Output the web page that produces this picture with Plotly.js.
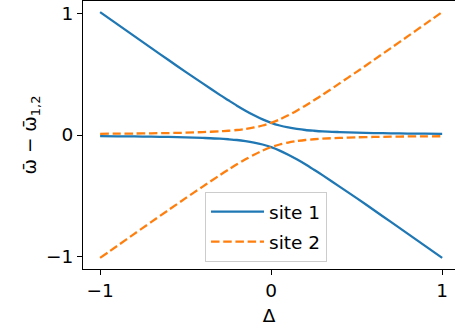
<!DOCTYPE html>
<html><head><meta charset="utf-8">
<script src="https://cdn.plot.ly/plotly-3.0.1.min.js"></script>
<style>html,body{margin:0;padding:0;background:#fff}</style>
</head><body><div id="chart" style="width:455px;height:329px"></div>
<script>
const delta = [-1,-0.9,-0.8,-0.7,-0.6,-0.5,-0.4,-0.3,-0.25,-0.2,-0.15,-0.1,-0.05,0,0.05,0.1,0.15,0.2,0.25,0.3,0.4,0.5,0.6,0.7,0.8,0.9,1];
const site1Upper = [1.010,0.911,0.812,0.714,0.616,0.519,0.424,0.330,0.285,0.241,0.200,0.162,0.128,0.100,0.078,0.062,0.050,0.041,0.035,0.030,0.024,0.019,0.016,0.014,0.012,0.011,0.010];
const site1Lower = [-0.010,-0.011,-0.012,-0.014,-0.016,-0.019,-0.024,-0.030,-0.035,-0.041,-0.050,-0.062,-0.078,-0.100,-0.128,-0.162,-0.200,-0.241,-0.285,-0.330,-0.424,-0.519,-0.616,-0.714,-0.812,-0.911,-1.010];
const site2Upper = [0.010,0.011,0.012,0.014,0.016,0.019,0.024,0.030,0.035,0.041,0.050,0.062,0.078,0.100,0.128,0.162,0.200,0.241,0.285,0.330,0.424,0.519,0.616,0.714,0.812,0.911,1.010];
const site2Lower = [-1.010,-0.911,-0.812,-0.714,-0.616,-0.519,-0.424,-0.330,-0.285,-0.241,-0.200,-0.162,-0.128,-0.100,-0.078,-0.062,-0.050,-0.041,-0.035,-0.030,-0.024,-0.019,-0.016,-0.014,-0.012,-0.011,-0.010];
const seriesNames = ['site 1','site 2'];
const tickVals = [-1,0,1];
const tickText = ['\u22121','0','1'];

const blue = '#1f77b4', orange = '#ff7f0e';
const font = 'DejaVu Sans, sans-serif';
const fs = 18.5;
const traces = [
  {x: delta, y: site1Upper, name: seriesNames[0], legendgroup: 's1', mode: 'lines', line: {color: blue, width: 2.3, shape: 'spline', smoothing: 0.8}},
  {x: delta, y: site1Lower, name: seriesNames[0], legendgroup: 's1', showlegend: false, mode: 'lines', line: {color: blue, width: 2.3, shape: 'spline', smoothing: 0.8}},
  {x: delta, y: site2Upper, name: seriesNames[1], legendgroup: 's2', mode: 'lines', line: {color: orange, width: 2.3, dash: '8.5px,3.7px', shape: 'spline', smoothing: 0.8}},
  {x: delta, y: site2Lower, name: seriesNames[1], legendgroup: 's2', showlegend: false, mode: 'lines', line: {color: orange, width: 2.3, dash: '8.5px,3.7px', shape: 'spline', smoothing: 0.8}}
];
const layout = {
  width: 455, height: 329,
  margin: {l: 83, r: 0, t: 1, b: 60},
  paper_bgcolor: '#fff', plot_bgcolor: '#fff',
  font: {family: font, size: fs, color: '#000'},
  showlegend: true,
  legend: {x: 0.328, y: 0.287, xanchor: 'left', yanchor: 'top', bgcolor: 'rgba(255,255,255,0.8)', bordercolor: '#cccccc', borderwidth: 1,
    font: {family: font, size: fs}, tracegroupgap: 3, itemwidth: 53},
  xaxis: {range: [-1.1, 1.075], tickvals: tickVals, ticktext: tickText, ticks: 'outside', ticklen: 5, tickwidth: 1, tickcolor: '#000',
    showline: true, linecolor: '#000', linewidth: 1, mirror: true, showgrid: false, zeroline: false,
    title: {text: 'Δ', font: {family: font, size: fs}, standoff: 8}},
  yaxis: {range: [-1.101, 1.101], tickvals: tickVals, ticktext: tickText, ticks: 'outside', ticklen: 5, tickwidth: 1, tickcolor: '#000',
    showline: true, linecolor: '#000', linewidth: 1, showgrid: false, zeroline: false,
    title: {text: 'ω\u0304 \u2212 ω\u0304<sub>1,2</sub>', font: {family: font, size: fs}, standoff: 4}}
};
Plotly.newPlot('chart', traces, layout, {displayModeBar: false, staticPlot: true});
</script></body></html>
